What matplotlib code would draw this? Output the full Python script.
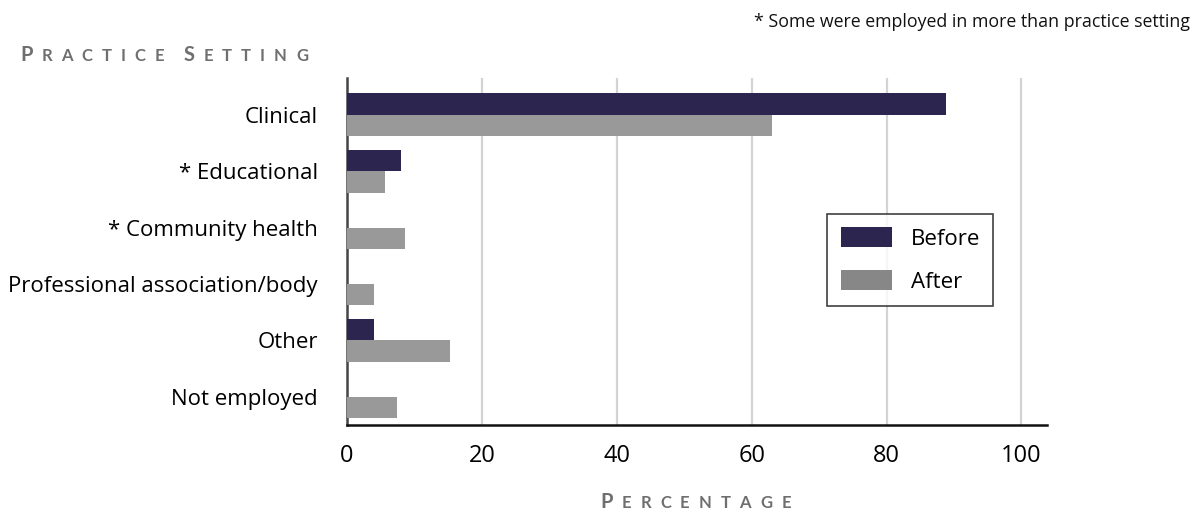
import matplotlib
matplotlib.use("Agg")
import matplotlib.pyplot as plt
import numpy as np
from matplotlib.patches import Patch
from matplotlib.offsetbox import TextArea, HPacker, DrawingArea, AnchoredOffsetbox

plt.rcParams["font.family"] = ["Open Sans", "DejaVu Sans"]

settings = ["Clinical", "* Educational", "* Community health",
            "Professional association/body", "Other", "Not employed"]
before = [88.8, 8.0, 0.0, 0.0, 4.0, 0.0]
after = [63.0, 5.7, 8.6, 4.0, 15.2, 7.4]
x_ticks = [0, 20, 40, 60, 80, 100]

BEFORE_COLOR = "#2b2550"
AFTER_COLOR = "#999999"
AFTER_KEY = "#878787"
TITLE_GRAY = "#6f6f6f"


def small_caps(fig, words, x, y, big=14.5, small=12, sep=6.5, gap=0.5):
    parts = []
    for i, word in enumerate(words):
        if i:
            parts.append(DrawingArea(gap, 1))
        for j, ch in enumerate(word):
            size = big if j == 0 else small
            parts.append(TextArea(ch, textprops=dict(fontsize=size, color=TITLE_GRAY,
                                                     fontweight="bold",
                                                     family=["Lato", "DejaVu Sans"])))
    box = HPacker(children=parts, align="baseline", pad=0, sep=sep)
    anchored = AnchoredOffsetbox(loc="lower left", child=box, pad=0, borderpad=0,
                                 frameon=False, bbox_to_anchor=(x, y),
                                 bbox_transform=fig.transFigure)
    fig.add_artist(anchored)


fig = plt.figure(figsize=(11.92, 5.12), dpi=100)
ax = fig.add_axes([0.2911, 0.1699, 0.5873, 0.6777])

y = np.arange(len(settings))
h = 0.38
ax.barh(y - h / 2, before, height=h, color=BEFORE_COLOR, zorder=3)
ax.barh(y + h / 2, after, height=h, color=AFTER_COLOR, zorder=3)

ax.set_xlim(0, 103.8)
ax.set_ylim(5.5, -0.65)
ax.set_xticks(x_ticks)
ax.set_xticklabels([str(v) for v in x_ticks], fontsize=17)
ax.set_yticks(y)
ax.set_yticklabels(settings, fontsize=16)
ax.tick_params(axis="both", length=0)
ax.tick_params(axis="x", pad=14)
ax.tick_params(axis="y", pad=21)
ax.xaxis.grid(True, color="#d3d3d3", linewidth=1.6, zorder=0)
ax.set_axisbelow(True)

for side in ("top", "right"):
    ax.spines[side].set_visible(False)
ax.spines["left"].set_color("#454545")
ax.spines["left"].set_linewidth(1.8)
ax.spines["bottom"].set_color("#111111")
ax.spines["bottom"].set_linewidth(1.8)

handles = [Patch(facecolor=BEFORE_COLOR, edgecolor="none", label="Before"),
           Patch(facecolor=AFTER_KEY, edgecolor="none", label="After")]
leg = fig.legend(handles=handles, loc="center", bbox_to_anchor=(0.7638, 0.4922),
                 bbox_transform=fig.transFigure, fontsize=16, frameon=True,
                 fancybox=False, edgecolor="#111111", handlelength=2.3,
                 handleheight=1.0, handletextpad=0.85, labelspacing=0.9,
                 borderpad=0.6)
leg.get_frame().set_linewidth(1.2)

fig.text(0.998, 0.958, "* Some were employed in more than practice setting",
         ha="right", va="center", fontsize=12.75, color="#111111")

small_caps(fig, ["PRACTICE", "SETTING"], 0.0168, 0.874)
small_caps(fig, ["PERCENTAGE"], 0.5034, 0.0)

fig.savefig("out.png", dpi=100)
